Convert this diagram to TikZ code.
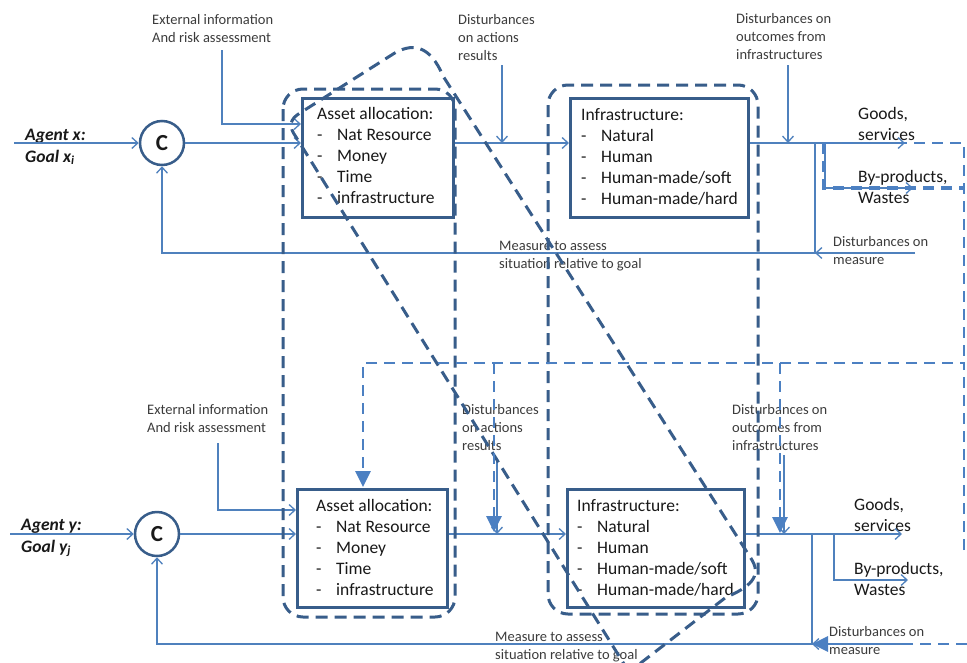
\documentclass[tikz,border=0pt]{standalone}
\usepackage{fontspec}
\setmainfont{Carlito}
\usetikzlibrary{arrows.meta}
\definecolor{lineblue}{RGB}{79,129,189}
\definecolor{darkblue}{RGB}{56,93,138}
\definecolor{dashlight}{RGB}{76,128,194}
\definecolor{txt}{RGB}{25,25,25}
\definecolor{txtgray}{RGB}{60,60,60}
\tikzset{
  conn/.style={draw=lineblue, line width=1.3pt},
  openarr/.style={conn, -{Straight Barb[length=6pt,width=11pt]}},
  box/.style={draw=darkblue, line width=2.8pt, rectangle, anchor=north west, inner sep=0pt},
  cnode/.style={circle, draw=darkblue, line width=2.5pt, minimum size=44pt, inner sep=0pt, fill=white,
    font=\fontsize{23}{23}\selectfont\bfseries, text=txt},
  darkdash/.style={draw=darkblue, line width=3pt, dash pattern=on 12pt off 7pt},
  lightdash/.style={draw=dashlight, line width=2.8pt, dash pattern=on 11pt off 7pt},
  filledarr/.style={-{Triangle[length=16pt,width=15pt]}},
  small/.style={font=\fontsize{14.5}{17.8}\selectfont, text=txtgray, align=left, inner sep=0pt, anchor=base west},
  big/.style={font=\fontsize{17.5}{20.9}\selectfont, text=txt, align=left, inner sep=0pt, anchor=base west},
  agent/.style={font=\fontsize{17.5}{22}\selectfont\bfseries\itshape, text=txt, align=left, inner sep=0pt, anchor=base west}
}
\newcommand{\itm}[1]{\makebox[20pt][l]{-}#1}
\begin{document}
\begin{tikzpicture}[x=1pt,y=-1pt]
\useasboundingbox (0,0) rectangle (967,662);
\clip (0,0) rectangle (967,662);
\fill[white] (0,0) rectangle (967,662);

% (text nodes are placed by the baseline of their LAST line)
% ---------------- top system ----------------
\node[cnode] (c1) at (162,143) {C};
\node[box, minimum width=151pt, minimum height=119pt] (asset1) at (301,97) {};
\node[box, minimum width=178pt, minimum height=119pt] (infra1) at (569,97) {};
\node[big] (asset1t) at (317,203) {Asset allocation:\\\itm{Nat Resource}\\\itm{Money}\\\itm{Time}\\\itm{infrastructure}};
\node[big] (infra1t) at (581,204) {Infrastructure:\\\itm{Natural}\\\itm{Human}\\\itm{Human-made/soft}\\\itm{Human-made/hard}};
\node[agent] (agx) at (25,162) {Agent x:\\Goal x\textsubscript{i}};
\node[small] (ext1) at (152,42) {External information\\And risk assessment};
\node[small] (da1) at (458,60) {Disturbances\\on actions\\results};
\node[small] (do1) at (736,59) {Disturbances on\\outcomes from\\infrastructures};
\node[big] (goods1) at (858,140) {Goods,\\services};
\node[big] (byp1) at (858,203) {By-products,\\Wastes};
\node[small] (meas1) at (499,268) {Measure to assess\\situation relative to goal};
\node[small] (dm1) at (833,264) {Disturbances on\\measure};

\coordinate (agxs) at (14,143);
\coordinate (ext1s) at (222,50);
\coordinate (ext1e) at (301,124);
\coordinate (da1s) at (502,65);
\coordinate (da1e) at (502,143);
\coordinate (do1s) at (788,65);
\coordinate (do1e) at (788,143);
\coordinate (goods1e) at (905,143);
\coordinate (br1) at (825,143);
\coordinate (byp1e) at (913,188);
\coordinate (fb1) at (815,143);
\coordinate (fb1b) at (815,253);
\coordinate (dm1s) at (915,253);

\draw[openarr] (agxs) -- (c1);
\draw[openarr] (c1) -- (asset1.west |- c1);
\draw[openarr] (ext1s) |- (ext1e);
\draw[openarr] (asset1.east |- c1) -- (infra1.west |- c1);
\draw[openarr] (da1s) -- (da1e);
\draw[openarr] (infra1.east |- c1) -- (goods1e);
\draw[openarr] (do1s) -- (do1e);
\draw[openarr] (br1) |- (byp1e);
\draw[openarr] (fb1) -- (fb1b) -| (c1.south);
\draw[openarr] (dm1s) -- (fb1b);

% ---------------- bottom system ----------------
\node[cnode] (c2) at (157,534) {C};
\node[box, minimum width=150pt, minimum height=118pt] (asset2) at (296,488) {};
\node[box, minimum width=177pt, minimum height=118pt] (infra2) at (566,488) {};
\node[big] (asset2t) at (316,595) {Asset allocation:\\\itm{Nat Resource}\\\itm{Money}\\\itm{Time}\\\itm{infrastructure}};
\node[big] (infra2t) at (577,595) {Infrastructure:\\\itm{Natural}\\\itm{Human}\\\itm{Human-made/soft}\\\itm{Human-made/hard}};
\node[agent] (agy) at (21,552) {Agent y:\\Goal y\textsubscript{j}};
\node[small] (ext2) at (147,432) {External information\\And risk assessment};
\node[small] (da2) at (462,450) {Disturbances\\on actions\\results};
\node[small] (do2) at (732,450) {Disturbances on\\outcomes from\\infrastructures};
\node[big] (goods2) at (854,531) {Goods,\\services};
\node[big] (byp2) at (854,595) {By-products,\\Wastes};
\node[small] (meas2) at (495,659) {Measure to assess\\situation relative to goal};
\node[small] (dm2) at (829,654) {Disturbances on\\measure};

\coordinate (agys) at (10,534);
\coordinate (ext2s) at (218,443);
\coordinate (ext2e) at (296,510);
\coordinate (da2s) at (497,458);
\coordinate (da2e) at (497,534);
\coordinate (do2s) at (784,455);
\coordinate (do2e) at (784,534);
\coordinate (goods2e) at (902,534);
\coordinate (br2) at (834,534);
\coordinate (byp2e) at (908,580);
\coordinate (fb2) at (812,534);
\coordinate (fb2b) at (812,644);
\coordinate (dm2s) at (905,644);

\draw[openarr] (agys) -- (c2);
\draw[openarr] (c2) -- (asset2.west |- c2);
\draw[openarr] (ext2s) |- (ext2e);
\draw[openarr] (asset2.east |- c2) -- (infra2.west |- c2);
\draw[openarr] (da2s) -- (da2e);
\draw[openarr] (infra2.east |- c2) -- (goods2e);
\draw[openarr] (do2s) -- (do2e);
\draw[openarr] (br2) |- (byp2e);
\draw[openarr] (fb2) -- (fb2b) -| (c2.south);
\draw[openarr] (dm2s) -- (fb2b);

% ---------------- dark dashed groupings ----------------
\draw[darkdash, rounded corners=20pt] (283,89) rectangle (455,617);
\draw[darkdash, rounded corners=20pt] (548,85) rectangle (758,614);
\coordinate (lpA) at (629,672);
\coordinate (lpB) at (296,137);
\coordinate (lpC) at (300,113);
\coordinate (lpD) at (390,56);
\coordinate (lpE) at (443,76);
\coordinate (lpF) at (752,560);
\coordinate (lpG) at (725,598);
\draw[darkdash] (lpA) -- (lpB) .. controls (288,126) and (290,119) .. (lpC)
  -- (lpD) .. controls (412,41) and (430,45) .. (lpE)
  -- (lpF) .. controls (764,580) and (742,590) .. (lpG) -- (lpA);

% ---------------- light dashed links ----------------
\coordinate (ld1) at (824,143);
\coordinate (ld2) at (964,143);
\coordinate (ld3) at (964,363);
\coordinate (ld4) at (824,188);
\coordinate (ld5) at (964,188);
\coordinate (ld6) at (363,363);
\coordinate (ld7) at (363,487);
\coordinate (ld8) at (964,550);
\coordinate (ld9) at (494,363);
\coordinate (ld10) at (494,532);
\coordinate (ld11) at (780,363);
\coordinate (ld12) at (780,533);
\coordinate (ld13) at (967,644);
\draw[lightdash, line width=2pt] (ld1) -- (ld2) -- (ld3);
\draw[lightdash, line width=3.3pt] (ld1) -- (ld4) -- (ld5);
\draw[lightdash, filledarr] (ld8) -- (ld3) -- (ld6) -- (ld7);
\draw[lightdash, filledarr] (ld9) -- (ld10);
\draw[lightdash, filledarr] (ld11) -- (ld12);
\draw[lightdash, filledarr] (ld13) -- (fb2b);
\end{tikzpicture}
\end{document}
